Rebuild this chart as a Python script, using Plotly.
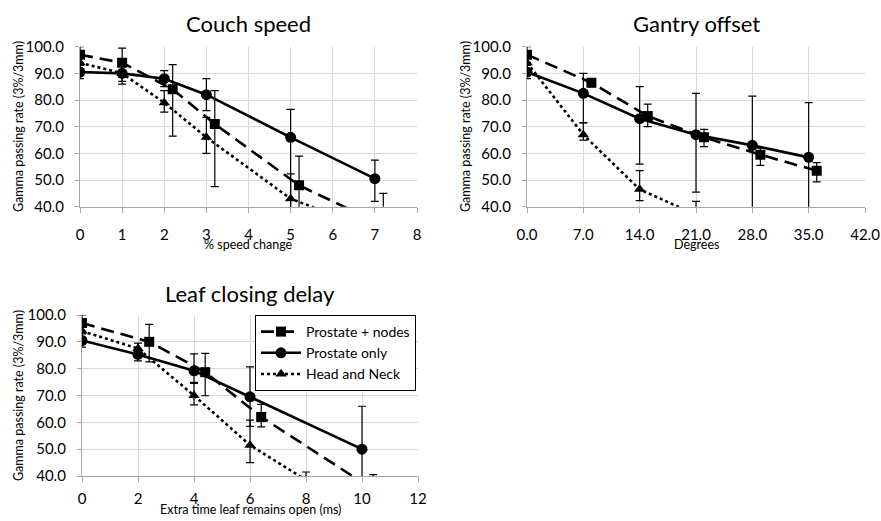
import plotly.graph_objects as go

# ---------------- data ----------------
series_names = ["Prostate + nodes", "Prostate only", "Head and Neck"]

# Couch speed (% speed change)
cs_x_nodes = [0, 1, 2.2, 3.2, 5.2, 7.2]
cs_nodes = [97.0, 94.0, 84.0, 71.0, 48.0, 33.0]
cs_nodes_plus = [3.0, 5.5, 9.3, 12.5, 11.0, 12.0]
cs_nodes_minus = [3.0, 5.5, 17.5, 23.5, 9.0, 12.0]

cs_x = [0, 1, 2, 3, 5, 7]
cs_only = [90.5, 90.0, 88.0, 82.0, 66.0, 50.5]
cs_only_plus = [2.5, 4.0, 3.0, 6.0, 10.5, 7.0]
cs_only_minus = [2.5, 4.0, 3.0, 6.0, 28.0, 8.5]

cs_hn = [94.0, 90.0, 79.0, 66.0, 43.0, 31.0]
cs_hn_plus = [3.0, 3.0, 4.5, 7.5, 9.3, 5.0]
cs_hn_minus = [3.0, 3.0, 3.5, 6.0, 5.0, 5.0]

# Gantry offset (degrees)
g_x_nodes = [0, 8, 15, 22, 29, 36]
g_nodes = [97.0, 86.5, 74.0, 66.0, 59.5, 53.5]
g_nodes_plus = [3.0, 1.5, 4.5, 3.0, 2.5, 3.0]
g_nodes_minus = [3.0, 1.5, 4.0, 3.5, 4.0, 4.2]

g_x = [0, 7, 14, 21, 28, 35]
g_only = [90.5, 82.5, 73.0, 67.0, 63.0, 58.5]
g_only_plus = [2.5, 7.5, 12.0, 15.5, 18.5, 20.5]
g_only_minus = [2.5, 11.0, 17.0, 21.5, 25.0, 20.5]

g_x_hn = [0, 7, 14, 21]
g_hn = [94.0, 67.0, 46.5, 37.0]
g_hn_plus = [3.0, 4.4, 7.0, 5.0]
g_hn_minus = [3.0, 2.0, 4.2, 5.0]

# Leaf closing delay (ms)
l_x_nodes = [0, 2.4, 4.4, 6.4, 10.4]
l_nodes = [97.0, 90.0, 78.7, 62.0, 35.0]
l_nodes_plus = [3.0, 6.5, 7.0, 4.7, 5.5]
l_nodes_minus = [3.0, 7.5, 8.8, 3.7, 5.0]

l_x = [0, 2, 4, 6, 10]
l_only = [90.5, 85.3, 79.2, 69.5, 50.0]
l_only_plus = [2.5, 2.0, 6.3, 11.2, 16.0]
l_only_minus = [2.5, 2.4, 4.3, 11.0, 16.0]

l_x_hn = [0, 2, 4, 6, 8]
l_hn = [94.0, 87.5, 70.0, 51.5, 38.5]
l_hn_plus = [3.0, 2.0, 4.5, 9.3, 3.0]
l_hn_minus = [3.0, 2.0, 3.5, 6.5, 3.0]

y_ticks = [40, 50, 60, 70, 80, 90, 100]
cs_ticks = [0, 1, 2, 3, 4, 5, 6, 7, 8]
g_ticks = [0, 7, 14, 21, 28, 35, 42]
l_ticks = [0, 2, 4, 6, 8, 10, 12]

titles = ["Couch speed", "Gantry offset", "Leaf closing delay"]
x_titles = ["% speed change", "Degrees", "Extra time leaf remains open (ms)"]
y_title = "Gamma passing rate (3%/3mm)"

# ---------------- styles ----------------
FONT = "Lato"
styles = [
    dict(dash="13px,7px", symbol="square", size=10),
    dict(dash="solid", symbol="circle", size=11),
    dict(dash="3px,3px", symbol="triangle-up", size=10),
]

fig = go.Figure()

panels = [
    ("x", "y", [(cs_x_nodes, cs_nodes, cs_nodes_plus, cs_nodes_minus),
                (cs_x, cs_only, cs_only_plus, cs_only_minus),
                (cs_x, cs_hn, cs_hn_plus, cs_hn_minus)]),
    ("x2", "y2", [(g_x_nodes, g_nodes, g_nodes_plus, g_nodes_minus),
                  (g_x, g_only, g_only_plus, g_only_minus),
                  (g_x_hn, g_hn, g_hn_plus, g_hn_minus)]),
    ("x3", "y3", [(l_x_nodes, l_nodes, l_nodes_plus, l_nodes_minus),
                  (l_x, l_only, l_only_plus, l_only_minus),
                  (l_x_hn, l_hn, l_hn_plus, l_hn_minus)]),
]

for pi, (xa, ya, series) in enumerate(panels):
    for si, (xs, ys, ep, em) in enumerate(series):
        st = styles[si]
        fig.add_trace(go.Scatter(
            x=xs, y=ys, xaxis=xa, yaxis=ya,
            mode="lines+markers",
            name=series_names[si],
            showlegend=(pi == 2),
            legendrank=si + 1,
            line=dict(color="black", width=2.6, dash=st["dash"]),
            marker=dict(color="black", symbol=st["symbol"], size=st["size"]),
            error_y=dict(type="data", symmetric=False, array=ep, arrayminus=em,
                         color="black", thickness=1.2, width=4),
        ))

# ---------------- layout ----------------
W, H = 881, 521

def px_x(p):
    return p / W

def px_y(p):
    return 1 - p / H

grid = "#d9d9d9"
axcol = "#a6a6a6"

def xaxis(domain, anchor, rng, ticks, fmt, standoff):
    return dict(domain=domain, anchor=anchor, range=rng, tickvals=ticks,
                tickformat=fmt, showgrid=True, gridcolor=grid, gridwidth=1,
                showline=True, linecolor=axcol, linewidth=1.3,
                ticks="outside", ticklen=5, tickcolor=axcol, tickwidth=1.3,
                ticklabelstandoff=standoff, zeroline=False, automargin=False,
                tickfont=dict(family=FONT, size=15, color="black"),
                fixedrange=True)

def yaxis(domain, anchor):
    return dict(domain=domain, anchor=anchor, range=[40, 100], tickvals=y_ticks,
                tickformat=".1f", showgrid=True, gridcolor=grid, gridwidth=1,
                showline=True, linecolor=axcol, linewidth=1.3,
                ticks="outside", ticklen=4, tickcolor=axcol, tickwidth=1.3,
                ticklabelstandoff=8, zeroline=False, automargin=False,
                tickfont=dict(family=FONT, size=15, color="black"),
                fixedrange=True)

d1x = [px_x(80), px_x(417)]
d2x = [px_x(527), px_x(865)]
d3x = [px_x(82), px_x(418)]
d12y = [px_y(206.7), px_y(46.7)]
d3y = [px_y(476), px_y(315)]

annotations = []
title_pos = [((80 + 417) / 2, 23), ((527 + 865) / 2, 23), ((82 + 418) / 2, 293)]
for t, (cx, cy) in zip(titles, title_pos):
    annotations.append(dict(text=t, x=px_x(cx), y=px_y(cy), xref="paper", yref="paper",
                            xanchor="center", yanchor="middle", showarrow=False,
                            font=dict(family=FONT, size=22, color="black")))
xt_pos = [((80 + 417) / 2, 245), ((527 + 865) / 2, 245), ((82 + 418) / 2, 509)]
for t, (cx, cy) in zip(x_titles, xt_pos):
    annotations.append(dict(text=t, x=px_x(cx), y=px_y(cy), xref="paper", yref="paper",
                            xanchor="center", yanchor="middle", showarrow=False,
                            font=dict(family=FONT, size=12.5, color="black")))
yt_pos = [(18, 127), (465, 127), (18, 396)]
for (cx, cy) in yt_pos:
    annotations.append(dict(text=y_title, x=px_x(cx), y=px_y(cy), xref="paper", yref="paper",
                            xanchor="center", yanchor="middle", showarrow=False, textangle=-90,
                            font=dict(family=FONT, size=12.5, color="black")))

fig.update_layout(
    width=W, height=H,
    margin=dict(l=0, r=0, t=0, b=0, pad=0, autoexpand=False),
    paper_bgcolor="white", plot_bgcolor="white",
    font=dict(family=FONT, color="black"),
    xaxis=xaxis(d1x, "y", [0, 8], cs_ticks, "d", 9),
    yaxis=yaxis(d12y, "x"),
    xaxis2=xaxis(d2x, "y2", [0, 42], g_ticks, ".1f", 9),
    yaxis2=yaxis(d12y, "x2"),
    xaxis3=xaxis(d3x, "y3", [0, 12], l_ticks, "d", 4),
    yaxis3=yaxis(d3y, "x3"),
    annotations=annotations,
    legend=dict(x=px_x(255), y=px_y(315), xanchor="left", yanchor="top",
                bgcolor="white", bordercolor="black", borderwidth=1,
                font=dict(family=FONT, size=14, color="black"),
                tracegroupgap=0, itemwidth=40),
    showlegend=True,
)

fig.write_html("out.html",
               config={"displayModeBar": False},
               post_script="document.body.style.margin='0px';document.body.style.overflow='hidden';")
